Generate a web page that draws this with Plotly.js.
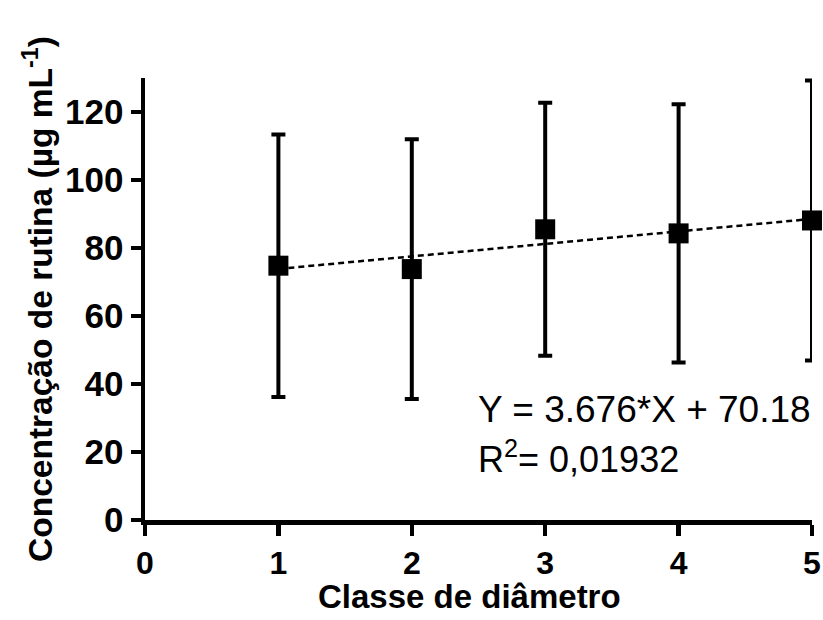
<!DOCTYPE html>
<html>
<head>
<meta charset="utf-8">
<script src="https://cdn.plot.ly/plotly-3.0.1.min.js"></script>
<style>html,body{margin:0;padding:0;background:#fff;}</style>
</head>
<body>
<div id="chart" style="width:823px;height:620px;"></div>
<script>
const classes = [1, 2, 3, 4, 5];
const meanValues = [74.8, 73.8, 85.5, 84.3, 88.1];
const sdValues = [38.6, 38.2, 37.2, 38.0, 41.2];
const slope = 3.676;
const intercept = 70.18;
const fitX = [1, 5];
const fitY = fitX.map(x => slope * x + intercept);
const xTicks = [0, 1, 2, 3, 4, 5];
const yTicks = [0, 20, 40, 60, 80, 100, 120];
const xTitle = 'Classe de diâmetro';
const yTitle = 'Concentração de rutina (µg mL<sup>-1</sup>)';
const eqText = 'Y = 3.676*X + 70.18';
const r2Text = 'R<sup>2</sup>= 0,01932';

const font = "'Liberation Sans', Arial, sans-serif";

const traces = [
  {
    x: fitX, y: fitY, type: 'scatter', mode: 'lines',
    line: {color: '#000', width: 2.5, dash: '6px,4px'},
    hoverinfo: 'skip', showlegend: false, cliponaxis: false
  },
  {
    x: classes, y: meanValues, type: 'scatter', mode: 'markers',
    marker: {symbol: 'square', size: 20, color: '#000'},
    error_y: {type: 'data', array: sdValues, visible: true, color: '#000', thickness: 4, width: 7},
    showlegend: false, cliponaxis: false
  }
];

const layout = {
  width: 823, height: 620,
  margin: {l: 145, r: 11, t: 78, b: 100},
  paper_bgcolor: '#fff', plot_bgcolor: '#fff',
  font: {family: font, color: '#000'},
  xaxis: {
    range: [0, 5], tickvals: xTicks, ticktext: xTicks.map(String),
    showgrid: false, zeroline: false, showline: true, linecolor: '#000', linewidth: 4.5,
    ticks: 'outside', ticklen: 11, tickwidth: 4.5, tickcolor: '#000',
    tickfont: {family: font, size: 32, color: '#000', weight: 'bold'}
  },
  yaxis: {
    range: [0, 130], tickvals: yTicks, ticktext: yTicks.map(String),
    showgrid: false, zeroline: false, showline: true, linecolor: '#000', linewidth: 4.5,
    ticks: 'outside', ticklen: 10, tickwidth: 4.5, tickcolor: '#000',
    tickfont: {family: font, size: 35, color: '#000', weight: 'bold'},
    title: {text: '<b>' + yTitle + '</b>', font: {family: font, size: 33.5, color: '#000'}, standoff: 4}
  },
  annotations: [
    {xref: 'paper', yref: 'paper', xanchor: 'center', yanchor: 'middle', showarrow: false,
     text: '<b>' + xTitle + '</b>', font: {family: font, size: 33, color: '#000'},
     x: 0.486, y: -0.172},
    {xref: 'paper', yref: 'paper', xanchor: 'left', yanchor: 'middle', showarrow: false,
     text: eqText, font: {family: font, size: 37, color: '#000'},
     x: 0.496, y: 0.249},
    {xref: 'paper', yref: 'paper', xanchor: 'left', yanchor: 'middle', showarrow: false,
     text: r2Text, font: {family: font, size: 36, color: '#000'},
     x: 0.496, y: 0.142}
  ]
};

Plotly.newPlot('chart', traces, layout, {displayModeBar: false, staticPlot: true});
</script>
</body>
</html>
